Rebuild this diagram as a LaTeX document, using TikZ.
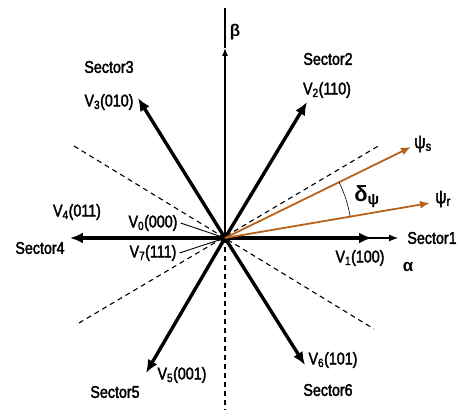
\documentclass[tikz,border=0pt]{standalone}
\usepackage{fontspec}
\setmainfont{Liberation Sans}
\newfontfamily\labelfont{Liberation Sans}[FakeStretch=0.84,FakeBold=2.2]
\usetikzlibrary{arrows.meta}
\newcommand{\Unit}{1pt}
\newcommand{\Heavy}{3.4pt}
\newcommand{\Thin}{1.1pt}
\newcommand{\Reach}{127}
\definecolor{ink}{HTML}{000000}
\definecolor{flux}{HTML}{B8621B}

\begin{document}
\begin{tikzpicture}[x=\Unit,y=\Unit, line join=round,
    vec/.style={ink,line width=\Heavy,-{Latex[length=13pt,width=11pt]}},
    fluxvec/.style={flux,line width=1.8pt,-{Latex[length=10pt,width=8pt]}},
    axis/.style={ink,line width=\Thin},
    sector/.style={dashed,ink,line width=\Thin,dash pattern=on 5pt off 4pt},
    lab/.style={font=\labelfont\fontsize{17}{18}\selectfont,inner sep=0pt},
    greek/.style={font=\fontsize{17}{18}\selectfont\bfseries,inner sep=0pt}]

  \useasboundingbox (-225,-177) rectangle (235,238);

  % ---- the origin and the vector tips -------------------------------------
  \coordinate (O) at (0,0);
  \coordinate (t1) at (147,0);
  \coordinate (t2) at (82,136);
  \coordinate (t3) at (-87,140);
  \coordinate (t4) at (-155,0);
  \coordinate (t5) at (-79,-135);
  \coordinate (t6) at (80,-127);

  % ---- the axes ------------------------------------------------------------
  \coordinate (betamid) at (0,190);
  \coordinate (betatop) at (0,230);
  \coordinate (betalow) at (0,-172);
  \coordinate (alphaend) at (173,0);
  \draw[axis,-{Latex[length=8pt,width=6pt]}] (O) -- (betamid);
  \draw[axis] (betamid) -- (betatop);
  \draw[axis,dashed,dash pattern=on 5pt off 4pt] (O) -- (betalow);
  \draw[axis,-{Latex[length=9pt,width=7pt]}] (O) -- (alphaend);

  % ---- the sector borders, at 30 degrees off each vector ------------------
  \coordinate (d1) at (-151,92);
  \coordinate (d2) at (149,-91);
  \coordinate (d3) at (-146,-85);
  \coordinate (d4) at (155,93);
  \draw[sector] (d1) -- (d2);
  \draw[sector] (d3) -- (d4);

  % ---- the six active vectors ---------------------------------------------
  \foreach \k in {1,...,6} {
    \draw[vec] (O) -- (t\k);
  }

  % ---- stator and rotor flux, and the angle between them ------------------
  \coordinate (psis) at (186,91);
  \coordinate (psir) at (205,35);
  \draw[fluxvec] (O) -- (psis);
  \draw[fluxvec] (O) -- (psir);
  \draw[ink,line width=0.6pt] (O) ++(9.7:\Reach) arc (9.7:26:\Reach);

  % ---- labels --------------------------------------------------------------
  \node[greek] (beta) at (10,206) {β};
  \node[greek] (alpha) at (183,-29) {α};
  \node[lab] (s1) at (207,0) {Sector1};
  \node[lab] (s2) at (103,179) {Sector2};
  \node[lab] (s3) at (-116,171) {Sector3};
  \node[lab] (s4) at (-185,-10) {Sector4};
  \node[lab] (s5) at (-110,-154) {Sector5};
  \node[lab] (s6) at (103,-152) {Sector6};
  \node[lab] (v1) at (135,-20) {V\textsubscript{1}(100)};
  \node[lab] (v2) at (102,148) {V\textsubscript{2}(110)};
  \node[lab] (v3) at (-116,136) {V\textsubscript{3}(010)};
  \node[lab] (v4) at (-148,26) {V\textsubscript{4}(011)};
  \node[lab] (v5) at (-43,-137) {V\textsubscript{5}(001)};
  \node[lab] (v6) at (108,-122) {V\textsubscript{6}(101)};
  \node[lab] (v0) at (-72,15) {V\textsubscript{0}(000)};
  \node[lab] (v7) at (-72,-15) {V\textsubscript{7}(111)};
  \node[lab,font=\labelfont\fontsize{19}{20}\selectfont] (ls) at (198,94) {ψ\textsubscript{s}};
  \node[lab,font=\labelfont\fontsize{19}{20}\selectfont] (lr) at (218,39) {ψ\textsubscript{r}};
  \node[lab,font=\fontsize{22}{24}\selectfont\bfseries] (delta) at (142,41) {δ\textsubscript{ψ}};

  % The two zero vectors sit at the origin: point at it.
  \draw[axis,line width=0.9pt,-{Latex[length=5pt,width=4pt]}] ([xshift=3pt]v0.east) -- (O);
  \draw[axis,line width=0.9pt,-{Latex[length=5pt,width=4pt]}] ([xshift=3pt]v7.east) -- (O);

\end{tikzpicture}
\end{document}
